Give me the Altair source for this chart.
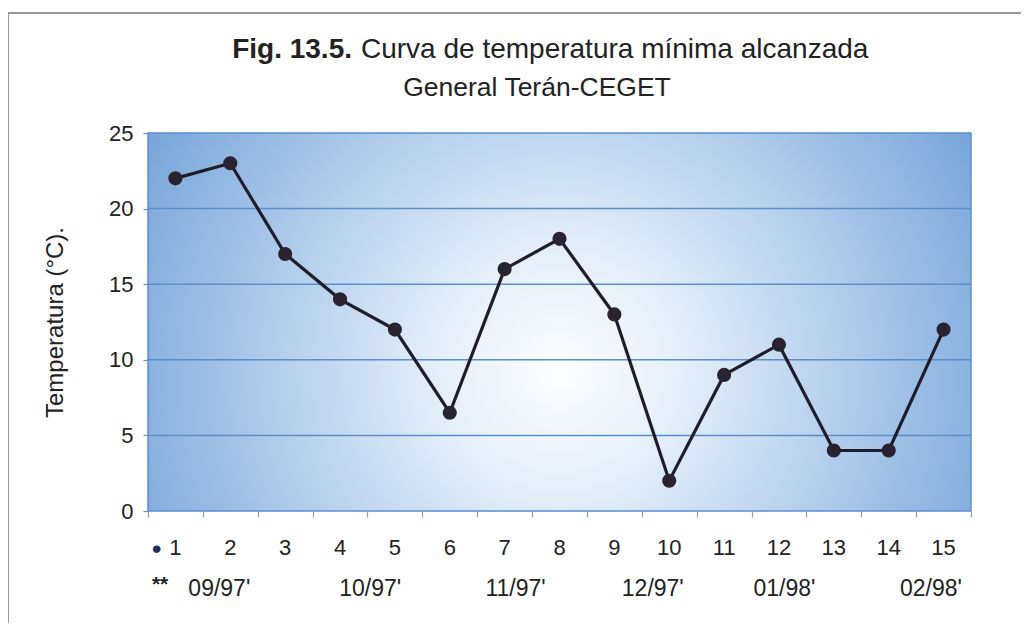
import altair as alt
import pandas as pd

# ---- data ----
days = list(range(1, 16))
temps = [22, 23, 17, 14, 12, 6.5, 16, 18, 13, 2, 9, 11, 4, 4, 12]
day_labels = [str(d) for d in days]
month_labels = ["09/97'", "10/97'", "11/97'", "12/97'", "01/98'", "02/98'"]
month_pos = [1.8, 4.55, 7.2, 9.7, 12.1, 14.77]
y_ticks = [0, 5, 10, 15, 20, 25]
grid_vals = [5, 10, 15, 20]
x_ticks = [i + 0.5 for i in range(0, 16)]

title_bold = "Fig. 13.5."
title_rest = "Curva de temperatura mínima alcanzada"
subtitle = "General Terán-CEGET"
y_title = "Temperatura (°C)."

W, H = 823, 378
FONT = "Liberation Sans"
TXT = "#222222"

xs = alt.Scale(domain=[0.5, 15.5], nice=False, zero=False)
ys = alt.Scale(domain=[0, 25], nice=False, zero=False)

df = pd.DataFrame({"dia": days, "temp": temps, "lab": day_labels})
mdf = pd.DataFrame({"pos": month_pos, "lab": month_labels})
gdf = pd.DataFrame({"g": grid_vals})
one = pd.DataFrame({"a": [0]})

gradient = {
    "gradient": "radial",
    "x1": 0.5, "y1": 0.56, "r1": 0,
    "x2": 0.5, "y2": 0.56, "r2": 0.6,
    "stops": [
        {"offset": 0, "color": "#fdfeff"},
        {"offset": 0.25, "color": "#e4eef9"},
        {"offset": 0.6, "color": "#aecbeb"},
        {"offset": 1, "color": "#71a1d8"},
    ],
}

frame = alt.Chart(one).mark_rect(filled=False, stroke="#7a7a7a", strokeWidth=1.5).encode(
    x=alt.value(-140), x2=alt.value(W + 120), y=alt.value(-120), y2=alt.value(H + 220)
)

bg = alt.Chart(one).mark_rect(fill=gradient, stroke="#5b8fd0", strokeWidth=1.5).encode(
    x=alt.X(datum=0.5, type="quantitative", scale=xs,
            axis=alt.Axis(values=x_ticks, labels=False, ticks=True, tickSize=6,
                          tickColor="#8aa3c0", tickWidth=1.2, domain=False, grid=False, title="")),
    x2=alt.datum(15.5),
    y=alt.Y(datum=0, type="quantitative", scale=ys,
            axis=alt.Axis(values=y_ticks, domain=False, grid=False, ticks=True, tickSize=5,
                          tickColor="#6f8fb5", tickWidth=1.2,
                          labelFontSize=22, labelFont=FONT, labelColor=TXT, labelPadding=10,
                          title=y_title, titleFont=FONT, titleFontSize=24, titleFontWeight="normal",
                          titleColor=TXT, titlePadding=41)),
    y2=alt.datum(25),
)

grid = alt.Chart(gdf).mark_rule(color="#5a8fcc", strokeWidth=1.5).encode(
    y=alt.Y("g:Q", scale=ys)
)

line = alt.Chart(df).mark_line(color="#1f1d2b", strokeWidth=3.2).encode(
    x=alt.X("dia:Q", scale=xs), y=alt.Y("temp:Q", scale=ys)
)
pts = alt.Chart(df).mark_circle(size=200, color="#282231", opacity=1).encode(
    x=alt.X("dia:Q", scale=xs), y=alt.Y("temp:Q", scale=ys)
)

day_text = alt.Chart(df).mark_text(font=FONT, fontSize=22, color=TXT, baseline="middle").encode(
    x=alt.X("dia:Q", scale=xs), y=alt.value(H + 37), text="lab:N"
)
month_text = alt.Chart(mdf).mark_text(font=FONT, fontSize=23, color=TXT, baseline="middle").encode(
    x=alt.X("pos:Q", scale=xs), y=alt.value(H + 78), text="lab:N"
)
bullet = alt.Chart(one).mark_text(text="•", font=FONT, fontSize=28, color="#1f2f5f", baseline="middle").encode(
    x=alt.X(datum=0.66, type="quantitative", scale=xs), y=alt.value(H + 39)
)
stars = alt.Chart(one).mark_text(text="**", font=FONT, fontSize=21, fontWeight="bold", color=TXT, baseline="middle").encode(
    x=alt.X(datum=0.72, type="quantitative", scale=xs), y=alt.value(H + 74)
)

t_bold = alt.Chart(one).mark_text(text=title_bold, font=FONT, fontSize=28, fontWeight="bold",
                                  color=TXT, align="right", baseline="middle").encode(
    x=alt.value(204), y=alt.value(-83)
)
t_rest = alt.Chart(one).mark_text(text=title_rest, font=FONT, fontSize=28,
                                  color=TXT, align="left", baseline="middle").encode(
    x=alt.value(213), y=alt.value(-83)
)
t_sub = alt.Chart(one).mark_text(text=subtitle, font=FONT, fontSize=26.5,
                                 color=TXT, align="center", baseline="middle").encode(
    x=alt.value(389), y=alt.value(-45)
)

chart = alt.layer(
    frame, bg, grid, line, pts, day_text, month_text, bullet, stars, t_bold, t_rest, t_sub
).properties(
    width=W, height=H,
    autosize=alt.AutoSizeParams(type="none"),
    padding={"left": 140, "top": 125, "right": 50, "bottom": 112},
    background="white",
).configure_view(strokeOpacity=0)

chart.save("out.html", embed_options={"renderer": "svg", "actions": False})
